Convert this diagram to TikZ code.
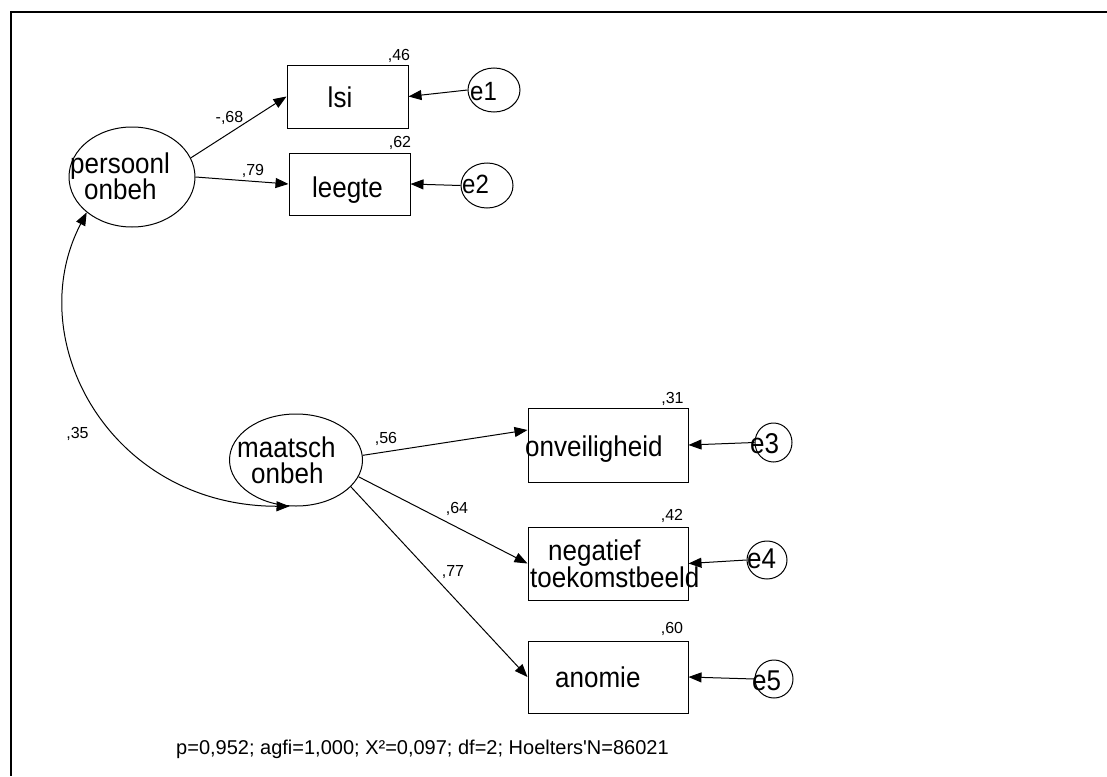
\documentclass[tikz,border=0pt]{standalone}
\usepackage{graphicx}
\usepackage{fontspec}
\setmainfont{Liberation Sans}[Ligatures=TeXOff]
\usetikzlibrary{arrows.meta,shapes.geometric}
\newcommand\tallt[1]{\scalebox{1}[1.1]{#1}}
\begin{document}
\begin{tikzpicture}[x=1pt,y=-1pt,
  box/.style 2 args={draw,rectangle,line width=1pt,inner sep=0pt,minimum width=#1,minimum height=#2},
  ell/.style 2 args={draw,ellipse,line width=1pt,inner sep=0pt,minimum width=#1,minimum height=#2},
  big/.style={font=\fontsize{26}{30}\selectfont,inner sep=0pt},
  errt/.style={font=\fontsize{24}{28}\selectfont,inner sep=0pt},
  small/.style={font=\fontsize{16}{19}\selectfont,inner sep=0pt},
  foot/.style={font=\fontsize{20}{24}\selectfont,inner sep=0pt},
  arr/.style={line width=1pt,-{Triangle[length=13pt,width=10pt]}},
  darr/.style={line width=1pt,{Triangle[length=13pt,width=10pt]}-{Triangle[length=13pt,width=10pt]}},
  frame/.style={line width=2pt}]
\useasboundingbox (0,0) rectangle (1107,776);
\fill[white] (0,0) rectangle (1107,776);
% frame
\coordinate (ftr) at (1107,12);
\coordinate (ftl) at (10,12);
\coordinate (fbl) at (11,776);
\draw[frame] (ftr) -- (ftl);
\draw[frame] (11,11) -- (fbl);
% observed variables
\node[box={121pt}{63pt}] (lsi) at (347.5,96.5) {};
\node[box={121pt}{62pt}] (leeg) at (349.5,184) {};
\node[box={160pt}{74pt}] (onv) at (608,445) {};
\node[box={160pt}{73pt}] (neg) at (608,563.5) {};
\node[box={160pt}{72pt}] (anom) at (608,677) {};
% latent variables
\node[ell={126pt}{100pt}] (pers) at (132,177) {};
\node[ell={133pt}{92pt}] (maat) at (296,460) {};
% errors
\node[ell={52pt}{44pt}] (e1) at (494,90) {};
\node[ell={52pt}{45pt}] (e2) at (487,185.5) {};
\node[ell={37pt}{39pt}] (e3) at (773.5,442.5) {};
\node[ell={40pt}{38pt}] (e4) at (767,560) {};
\node[ell={38pt}{38pt}] (e5) at (774,679) {};
% texts
\node[big,anchor=base] (tlsi) at (340,107) {\tallt{lsi}};
\node[big,anchor=base] (tleeg) at (347.5,197) {\tallt{leegte}};
\node[big,anchor=base west] (tpers1) at (70,173) {\tallt{persoonl}};
\node[big,anchor=base west] (tpers2) at (84,199) {\tallt{onbeh}};
\node[big,anchor=base west] (tmaat1) at (237,457) {\tallt{maatsch}};
\node[big,anchor=base west] (tmaat2) at (251,483) {\tallt{onbeh}};
\node[big,anchor=base west] (tonv) at (525,456) {\tallt{onveiligheid}};
\node[big,anchor=base west] (tneg1) at (548,560) {\tallt{negatief}};
\node[big,anchor=base west] (tneg2) at (530,587) {\tallt{toekomstbeeld}};
\node[big,anchor=base west] (tanom) at (555,687) {\tallt{anomie}};
\node[errt,anchor=base west] (te1) at (470,100) {\tallt{e1}};
\node[errt,anchor=base west] (te2) at (462,193) {\tallt{e2}};
\node[big,anchor=base west] (te3) at (750,453) {\tallt{e3}};
\node[big,anchor=base west] (te4) at (747,568) {\tallt{e4}};
\node[big,anchor=base west] (te5) at (752,690) {\tallt{e5}};
% squared multiple correlations
\node[small,anchor=base] (r1) at (399,60) {,46};
\node[small,anchor=base] (r2) at (400,147) {,62};
\node[small,anchor=base] (r3) at (672.5,403) {,31};
\node[small,anchor=base] (r4) at (672,520) {,42};
\node[small,anchor=base] (r5) at (672,633) {,60};
% path coefficients
\node[small,anchor=base] (c1) at (229.5,122) {-,68};
\node[small,anchor=base] (c2) at (253,175) {,79};
\node[small,anchor=base] (c3) at (77.5,438) {,35};
\node[small,anchor=base] (c4) at (386,443) {,56};
\node[small,anchor=base] (c5) at (457,513) {,64};
\node[small,anchor=base] (c6) at (453,576) {,77};
% fit
\node[foot,anchor=base] (fit) at (422.5,754) {p=0,952; agfi=1,000; X²=0,097; df=2; Hoelters'N=86021};
% connectors
\draw[arr] (pers.18) -- (lsi.west);
\draw[arr] (pers.east) -- (leeg.west);
\draw[arr] (e1.west) -- (lsi.east);
\draw[arr] (e2.west) -- (leeg.east);
\draw[arr] (maat.4) -- ([yshift=15pt]onv.west);
\draw[arr] (maat.-15) -- (neg.west);
\draw[arr] (maat.-26) -- (anom.west);
\draw[arr] (e3.west) -- (onv.east);
\draw[arr] (e4.west) -- (neg.east);
\draw[arr] (e5.west) -- (anom.east);
\draw[darr] (maat.262) .. controls (110,506) and (20,340) .. (pers.218);
\end{tikzpicture}
\end{document}
